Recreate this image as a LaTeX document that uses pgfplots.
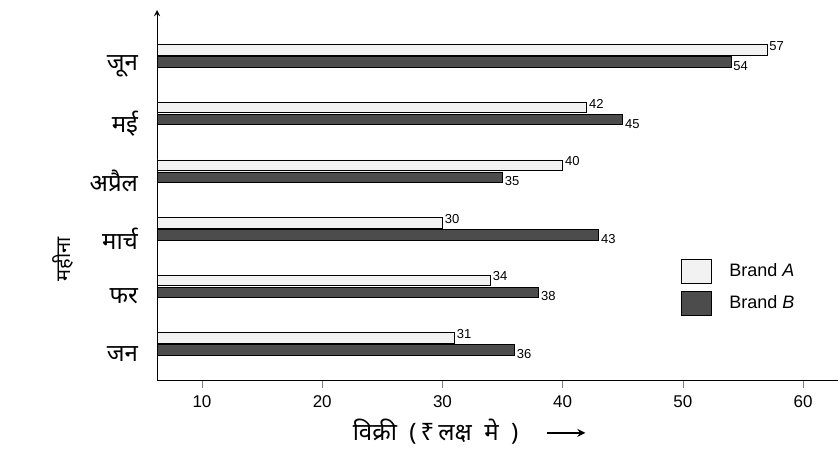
\documentclass[border=0pt]{standalone}
\usepackage{pgfplots}
\pgfplotsset{compat=1.18}
\usetikzlibrary{arrows.meta}
\usepackage{fontspec}
\setmainfont{Liberation Sans}
\newfontfamily\deva[Script=Devanagari]{Noto Sans}

\begin{document}
\begin{tikzpicture}
\begin{axis}[
    xbar,
    scale only axis,
    width=340.4pt,
    height=185pt,
    xmin=6.26, xmax=62.9,
    ymin=-0.63, ymax=5.8,
    axis y line=left,
    axis x line*=bottom,
    xtick={10,20,30,40,50,60},
    xtick align=outside,
    major tick length=4pt,
    ytick={0,1,2,3,4,5},
    yticklabels={जन,फर,मार्च,अप्रैल,मई,जून},
    yticklabel style={font=\deva\fontsize{12}{14}\selectfont, xshift=-4pt, yshift=-5pt},
    ytick style={draw=none},
    tick label style={font=\fontsize{8.5}{10}\selectfont},
    /pgf/number format/assume math mode=true,
    xlabel={{\deva विक्री\ \ (\,₹\,लक्ष\ \ मे\ \ )}\hspace{14pt}\tikz[baseline=-0.6ex]\draw[line width=0.9pt,-{Stealth[length=4pt,width=4pt]}] (0,0)--(19pt,0);},
    xlabel style={font=\fontsize{12}{14}\selectfont, xshift=-14pt, yshift=1pt},
    ylabel={\deva महीना},
    ylabel style={at={(rel axis cs:0,0.327)}, anchor=center, yshift=47pt, font=\fontsize{10}{12}\selectfont},
    bar width=5.2pt,
    nodes near coords,
    every node near coord/.append style={font=\fontsize{6.5}{7}\selectfont, anchor=west, inner sep=1pt},
    legend style={draw=none, fill=none, at={(rel axis cs:0.76,0.34)}, anchor=north west,
        font=\fontsize{9}{10}\selectfont, row sep=4pt},
    legend cell align=left,
    legend image code/.code={\draw[#1] (0pt,-6pt) rectangle (15pt,6pt); \path[draw=none,fill=none] (0pt,0pt) rectangle (22pt,0.1pt);},
]
\addplot[draw=black, fill=black!5, bar shift=3pt,
    every node near coord/.append style={yshift=2pt}]
    coordinates {(31,0) (34,1) (30,2) (40,3) (42,4) (57,5)};
\addplot[draw=black, fill=black!70, bar shift=-3pt,
    every node near coord/.append style={yshift=-2pt}]
    coordinates {(36,0) (38,1) (43,2) (35,3) (45,4) (54,5)};
\legend{Brand \textit{A}, Brand \textit{B}}
\coordinate (bl) at (rel axis cs:0,0);
\coordinate (tr) at (rel axis cs:1,1);
\end{axis}
\pgfresetboundingbox
\path ([shift={(-78.5pt,-34pt)}]bl) rectangle ([shift={(0pt,5pt)}]tr);
\end{tikzpicture}
\end{document}
